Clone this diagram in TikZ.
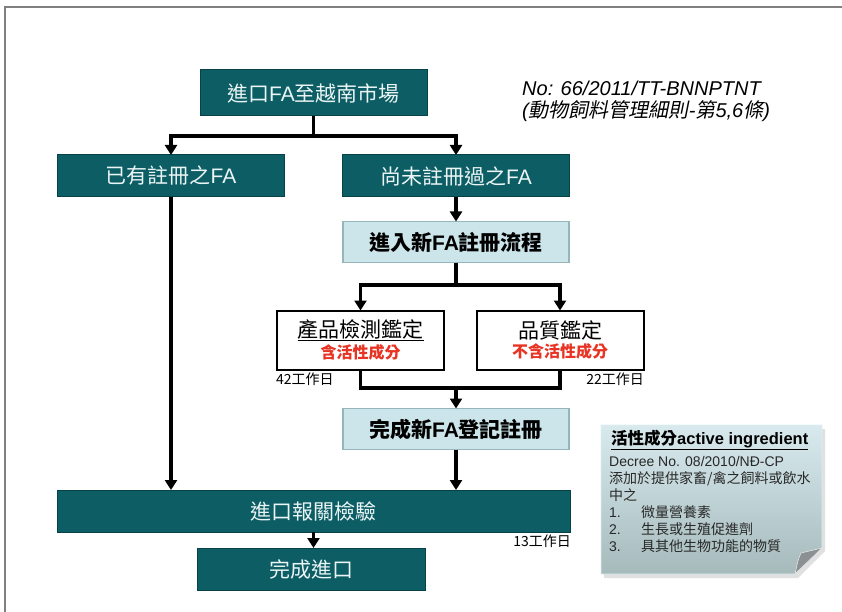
\documentclass[tikz,border=0pt]{standalone}
\usepackage{fontspec}
\setmainfont{Noto Sans CJK TC}
\newfontfamily\arialf{Liberation Sans}
\newfontfamily\cjksl[FakeSlant=0.2]{Noto Sans CJK TC}
\usetikzlibrary{arrows.meta,calc}
\definecolor{tealfill}{RGB}{13,93,101}
\definecolor{tealline}{RGB}{8,66,72}
\definecolor{lightfill}{RGB}{204,229,234}
\definecolor{lightline}{RGB}{150,182,188}
\definecolor{redtxt}{RGB}{232,52,36}
\definecolor{notetop}{RGB}{216,234,238}
\definecolor{notebot}{RGB}{166,186,188}
\definecolor{framegray}{RGB}{128,128,128}
\definecolor{notetxt}{RGB}{40,40,40}
\newcommand{\lat}[1]{{\arialf #1}}
\tikzset{
  tealbox/.style={draw=tealline, line width=1pt, fill=tealfill, text=white!92!teal,
    minimum height=42pt, minimum width=227pt, inner sep=0pt, outer sep=0pt,
    font=\fontsize{21}{24}\selectfont},
  lightbox/.style={draw=lightline, line width=1.5pt, fill=lightfill, text=black,
    minimum height=41pt, minimum width=226pt, inner sep=0pt, outer sep=0pt,
    font=\fontsize{21}{24}\selectfont\bfseries},
  whitebox/.style={draw=black, line width=2pt, fill=white, align=center,
    minimum height=59pt, minimum width=167pt, inner sep=0pt, outer sep=0pt},
  conn/.style={line width=3.2pt, line join=miter},
  arr/.style={conn, -{Triangle[width=12pt,length=10pt]}},
  days/.style={inner sep=0pt, font=\fontsize{14}{16}\selectfont},
}
\begin{document}
\begin{tikzpicture}[x=1pt,y=-1pt]
\useasboundingbox (0,0) rectangle (842,612);
\draw[framegray, line width=1.6pt] (5,612) -- (5,7) -- (842,7);

% nodes
\node[tealbox, minimum height=46pt] (b1) at (313.5,93) {進口\lat{FA}至越南市場};
\node[tealbox] (b2) at (171,176) {已有註冊之\lat{FA}};
\node[tealbox] (b3) at (456,176) {尚未註冊過之\lat{FA}};
\node[lightbox] (b4) at (456,242) {進入新\lat{\bfseries FA}註冊流程};
\node[whitebox] (b5) at (360.5,340) {\fontsize{21}{24}\selectfont\underline{產品檢測鑑定}\\[3pt]{\fontsize{16}{18}\selectfont\bfseries\color{redtxt}含活性成分}};
\node[whitebox] (b6) at (560,340) {\fontsize{21}{24}\selectfont 品質鑑定\\[3pt]{\fontsize{16}{18}\selectfont\bfseries\color{redtxt}不含活性成分}};
\node[lightbox] (b7) at (456,429) {完成新\lat{\bfseries FA}登記註冊};
\node[tealbox, minimum width=513pt] (b8) at (313.5,511) {進口報關檢驗};
\node[tealbox, minimum width=228pt] (b9) at (311,569) {完成進口};

\node[days, anchor=north west] (d1) at (276,373) {42工作日};
\node[days, anchor=north east] (d2) at (644,373) {22工作日};
\node[days, anchor=north east] (d3) at (571,535) {13工作日};

\node[anchor=west, inner sep=0pt, font=\fontsize{20}{24}\selectfont] (ref1) at (522,88)
  {\arialf\itshape No: 66/2011/TT-BNNPTNT};
\node[anchor=west, inner sep=0pt, font=\fontsize{20}{24}\selectfont] (ref2) at (522,111)
  {{\arialf\itshape (}{\cjksl 動物飼料管理細則}{\arialf\itshape -}{\cjksl 第}{\arialf\itshape 5,6}{\cjksl 條}{\arialf\itshape )}};

% connectors
\coordinate (j1) at (313.5,136);
\draw[conn] (b1.south) -- (j1);
\draw[arr] (j1) -| (b2.north);
\draw[arr] (j1) -| (b3.north);
\draw[arr] (b2.south) -- (b2.south |- b8.north);
\draw[arr] (b3.south) -- (b4.north);
\coordinate (j2) at (456,285);
\draw[conn] (b4.south) -- (j2);
\draw[arr] (j2) -| (b5.north);
\draw[arr] (j2) -| (b6.north);
\coordinate (j3) at (456,388);
\draw[conn] (b5.south) |- (j3) -| (b6.south);
\draw[arr] (j3) -- (b7.north);
\draw[arr] (b7.south) -- (b7.south |- b8.north);
\draw[arr] (b8.south) -- (b8.south |- b9.north);

% note
\fill[black!12] (604,429) -- (825,429) -- (825,551) -- (798,578) -- (604,578) -- cycle;
\shade[top color=notetop, bottom color=notebot, draw=notetop!80!white, line width=0.8pt]
  (601,425) -- (822,425) -- (822,548) -- (795,574) -- (601,574) -- cycle;
\fill[gray!70!notebot, draw=white!80!gray, line width=0.6pt]
  (822,548) -- (801,553) .. controls (798,560) .. (795,574) -- cycle;
\node[anchor=west, inner sep=0pt, font=\fontsize{16.5}{18}\selectfont\bfseries] (nt) at (611,440)
  {\underline{活性成分{\arialf active ingredient}}};
\node[anchor=north west, inner sep=0pt, align=left, text=notetxt,
  font=\fontsize{14}{17}\selectfont] (nb) at (609,456)
  {{\arialf Decree No. 08/2010/NĐ-CP}\\
   添加於提供家畜/禽之飼料或飲水\\
   中之\\
   \makebox[32pt][l]{\arialf 1.}微量營養素\\
   \makebox[32pt][l]{\arialf 2.}生長或生殖促進劑\\
   \makebox[32pt][l]{\arialf 3.}具其他生物功能的物質};
\end{tikzpicture}
\end{document}
